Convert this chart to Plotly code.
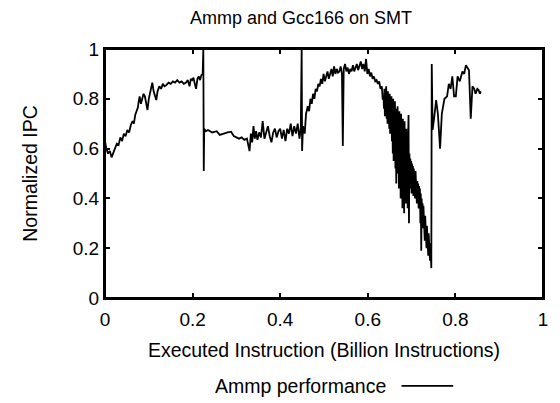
import plotly.graph_objects as go

# executed instructions (billions) and normalized IPC
# first phase: warm-up ramp up to the first context switch
instr_a = [
    0.000, 0.003, 0.007, 0.011, 0.015, 0.019, 0.023, 0.027, 0.031, 0.035,
    0.039, 0.043, 0.047, 0.051, 0.055, 0.059, 0.063, 0.066, 0.069, 0.072,
    0.075, 0.077, 0.079, 0.082, 0.085, 0.088, 0.091, 0.094, 0.097, 0.100,
    0.104, 0.108, 0.111, 0.114, 0.117, 0.120, 0.124, 0.128, 0.132, 0.136,
    0.140, 0.145, 0.150, 0.155, 0.160, 0.165, 0.170, 0.175, 0.180, 0.185,
    0.189, 0.193, 0.196, 0.199, 0.202, 0.205, 0.208, 0.211, 0.214, 0.217,
    0.220, 0.223, 0.2245, 0.2255, 0.2265,
]
ipc_a = [
    0.63, 0.60, 0.58, 0.59, 0.565, 0.585, 0.60, 0.62, 0.615, 0.645,
    0.63, 0.66, 0.65, 0.675, 0.665, 0.695, 0.71, 0.70, 0.735, 0.75,
    0.765, 0.79, 0.81, 0.78, 0.80, 0.82, 0.81, 0.78, 0.755, 0.80,
    0.84, 0.865, 0.83, 0.815, 0.795, 0.83, 0.85, 0.84, 0.86, 0.85,
    0.855, 0.865, 0.86, 0.87, 0.865, 0.875, 0.865, 0.87, 0.86, 0.865,
    0.875, 0.85, 0.88, 0.875, 0.885, 0.86, 0.84, 0.88, 0.89, 0.875,
    0.895, 0.90, 1.00, 0.51, 0.68,
]

# second phase: flat, noisy plateau
instr_b = [
    0.230, 0.235, 0.245, 0.255, 0.262, 0.270, 0.280, 0.288, 0.294, 0.300,
    0.306, 0.312, 0.318, 0.324, 0.330, 0.333, 0.336, 0.339, 0.342, 0.345,
    0.348, 0.352, 0.356, 0.360, 0.364, 0.368, 0.372, 0.376, 0.380, 0.384,
    0.388, 0.392, 0.396, 0.400, 0.404, 0.408, 0.412, 0.416, 0.420, 0.424,
    0.428, 0.432, 0.436, 0.440, 0.444, 0.447, 0.449, 0.450, 0.452, 0.456,
]
ipc_b = [
    0.67, 0.675, 0.665, 0.67, 0.655, 0.66, 0.665, 0.668, 0.65, 0.645,
    0.64, 0.645, 0.635, 0.64, 0.59, 0.66, 0.625, 0.69, 0.64, 0.67,
    0.635, 0.665, 0.645, 0.71, 0.64, 0.665, 0.69, 0.65, 0.625, 0.665,
    0.68, 0.645, 0.67, 0.68, 0.64, 0.675, 0.63, 0.68, 0.66, 0.70,
    0.65, 0.69, 0.66, 0.70, 0.64, 0.68, 1.00, 0.59, 0.69, 0.66,
]

# third phase: hump, then the heavily oscillating collapse
instr_c = [
    0.459, 0.463, 0.466, 0.469, 0.472, 0.475, 0.478, 0.481, 0.484, 0.487,
    0.490, 0.493, 0.496, 0.499, 0.502, 0.505, 0.508, 0.511, 0.514, 0.517,
    0.520, 0.523, 0.526, 0.529, 0.532, 0.535, 0.538, 0.541, 0.543, 0.545,
    0.548, 0.551, 0.554, 0.557, 0.560, 0.563, 0.566, 0.569, 0.572, 0.575,
    0.578, 0.581, 0.584, 0.587, 0.590, 0.593, 0.596, 0.599, 0.602, 0.605,
    0.608, 0.611, 0.614, 0.617, 0.620, 0.623, 0.626, 0.629, 0.632, 0.634,
]
ipc_c = [
    0.74, 0.77, 0.75, 0.80, 0.78, 0.82, 0.80, 0.84, 0.83, 0.86,
    0.85, 0.88, 0.86, 0.90, 0.87, 0.89, 0.91, 0.88, 0.90, 0.92,
    0.89, 0.93, 0.90, 0.92, 0.905, 0.91, 0.93, 0.90, 0.61, 0.92,
    0.94, 0.91, 0.925, 0.90, 0.92, 0.91, 0.935, 0.91, 0.925, 0.94,
    0.915, 0.93, 0.95, 0.92, 0.94, 0.91, 0.96, 0.90, 0.92, 0.89,
    0.905, 0.88, 0.89, 0.87, 0.875, 0.86, 0.87, 0.84, 0.85, 0.80,
]

instr_d = [
    0.636, 0.637, 0.638, 0.639, 0.640, 0.641, 0.642, 0.643, 0.644, 0.645,
    0.646, 0.647, 0.648, 0.649, 0.650, 0.651, 0.652, 0.653, 0.654, 0.655,
    0.656, 0.657, 0.658, 0.659, 0.660, 0.661, 0.662, 0.663, 0.664, 0.665,
    0.666, 0.667, 0.668, 0.669, 0.670, 0.671, 0.672, 0.673, 0.674, 0.675,
    0.676, 0.677, 0.678, 0.679, 0.680, 0.681, 0.682, 0.683, 0.684, 0.685,
    0.686, 0.687, 0.688, 0.689, 0.690, 0.691, 0.692, 0.693, 0.694, 0.695,
    0.696, 0.697, 0.698, 0.699, 0.700, 0.701, 0.702, 0.703, 0.704, 0.705,
    0.706, 0.707, 0.708, 0.709, 0.710, 0.711, 0.712, 0.713, 0.714, 0.715,
    0.716, 0.717, 0.718, 0.719, 0.720, 0.721, 0.722, 0.723, 0.724, 0.725,
    0.726, 0.727, 0.728, 0.729, 0.730, 0.731, 0.732, 0.733, 0.734, 0.735,
    0.736, 0.737, 0.738, 0.739, 0.740, 0.741, 0.742, 0.743, 0.744, 0.745,
]
ipc_d = [
    0.80, 0.76, 0.84, 0.73, 0.82, 0.78, 0.85, 0.72, 0.81, 0.70,
    0.83, 0.74, 0.80, 0.68, 0.82, 0.66, 0.79, 0.71, 0.81, 0.63,
    0.78, 0.58, 0.80, 0.55, 0.77, 0.62, 0.79, 0.52, 0.76, 0.46,
    0.74, 0.57, 0.77, 0.50, 0.73, 0.44, 0.75, 0.53, 0.71, 0.40,
    0.74, 0.48, 0.70, 0.36, 0.72, 0.45, 0.69, 0.34, 0.71, 0.42,
    0.66, 0.38, 0.68, 0.47, 0.62, 0.36, 0.64, 0.735, 0.30, 0.58,
    0.44, 0.56, 0.48, 0.55, 0.42, 0.54, 0.46, 0.53, 0.41, 0.52,
    0.47, 0.50, 0.40, 0.51, 0.44, 0.48, 0.38, 0.47, 0.42, 0.46,
    0.36, 0.45, 0.39, 0.44, 0.30, 0.42, 0.19, 0.40, 0.33, 0.38,
    0.28, 0.37, 0.30, 0.35, 0.23, 0.33, 0.27, 0.30, 0.20, 0.29,
    0.24, 0.27, 0.17, 0.26, 0.21, 0.24, 0.15, 0.22, 0.14, 0.12,
]

# fourth phase: recovery after the last switch
instr_e = [
    0.746, 0.748, 0.752, 0.756, 0.760, 0.765, 0.769, 0.775, 0.781, 0.785,
    0.789, 0.793, 0.797, 0.801, 0.805, 0.810, 0.816, 0.820, 0.824, 0.828,
    0.831, 0.835, 0.839, 0.843, 0.846, 0.850, 0.853, 0.856, 0.858,
]
ipc_e = [
    0.94, 0.675, 0.73, 0.795, 0.74, 0.60, 0.74, 0.80, 0.81, 0.86,
    0.84, 0.89, 0.81, 0.81, 0.89, 0.87, 0.91, 0.90, 0.935, 0.92,
    0.915, 0.72, 0.85, 0.84, 0.82, 0.84, 0.835, 0.82, 0.83,
]

instr = instr_a + instr_b + instr_c + instr_d + instr_e
ipc = ipc_a + ipc_b + ipc_c + ipc_d + ipc_e

tick_vals = [0, 0.2, 0.4, 0.6, 0.8, 1]
tick_text = ["0", "0.2", "0.4", "0.6", "0.8", "1"]

font = "Liberation Sans, Arial, sans-serif"

fig = go.Figure()
fig.add_trace(go.Scatter(
    x=instr, y=ipc, mode="lines", name="Ammp performance",
    line=dict(color="black", width=1.8), showlegend=False,
))

axis_style = dict(
    range=[0, 1], tickvals=tick_vals, ticktext=tick_text,
    ticks="inside", ticklen=5, tickwidth=2, tickcolor="black",
    showline=True, linecolor="black", linewidth=2, mirror="allticks",
    showgrid=False, zeroline=False,
    tickfont=dict(family=font, size=19, color="black"),
)

fig.update_layout(
    width=560, height=403,
    margin=dict(l=105, r=12, t=49, b=105),
    paper_bgcolor="white", plot_bgcolor="white",
    font=dict(family=font, color="black"),
    xaxis=dict(axis_style, ticklabelstandoff=3,
               title=dict(text="Executed Instruction (Billion Instructions)",
                          font=dict(size=19.5), standoff=15)),
    yaxis=dict(axis_style, ticklabelstandoff=0,
               title=dict(text="Normalized IPC", font=dict(size=19.5), standoff=30)),
)

# chart title, placed as an annotation so its size and position are exact
fig.add_annotation(text="Ammp and Gcc166 on SMT", xref="paper", yref="paper",
                   x=0.447, y=1.124, xanchor="center", yanchor="middle",
                   showarrow=False, font=dict(size=18))

# plot frame (gnuplot border)
fig.add_shape(type="rect", xref="paper", yref="paper", x0=0, x1=1, y0=0, y1=1,
              line=dict(color="black", width=2), layer="above")

# legend in the gnuplot style: key text, then a line sample to the right
fig.add_annotation(text="Ammp performance", xref="paper", yref="paper",
                   x=0.645, y=-0.353, xanchor="right", yanchor="middle",
                   showarrow=False, font=dict(size=19.5))
fig.add_shape(type="line", xref="paper", yref="paper",
              x0=0.677, x1=0.795, y0=-0.353, y1=-0.353,
              line=dict(color="black", width=1.6))

# drop the page's default body margin so the figure sits at the window origin
fig.write_html("out.html", config={"displayModeBar": False},
               post_script="document.body.style.margin='0';")
